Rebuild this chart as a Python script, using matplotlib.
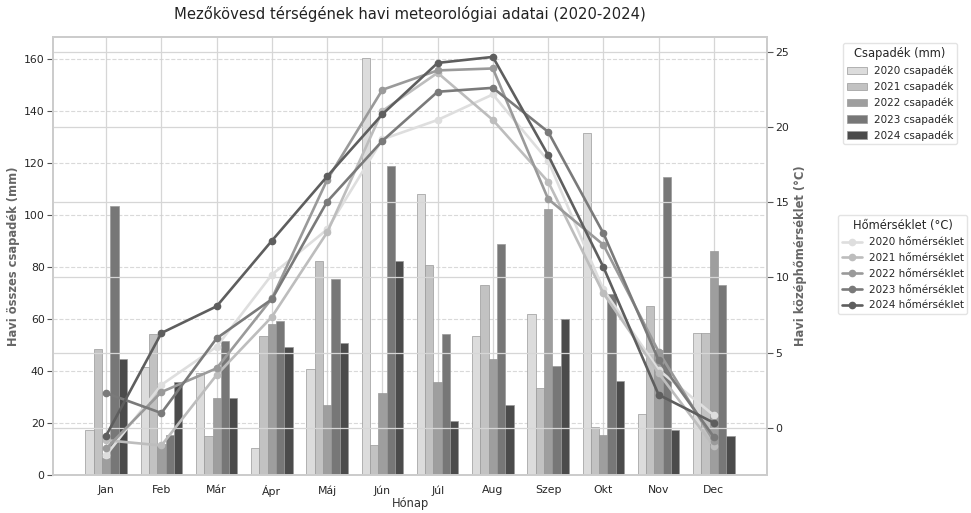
import matplotlib
matplotlib.use("Agg")
import matplotlib.pyplot as plt
import numpy as np
import seaborn as sns

months = ["Jan", "Feb", "Már", "Ápr", "Máj", "Jún", "Júl", "Aug", "Szep", "Okt", "Nov", "Dec"]
years = ["2020", "2021", "2022", "2023", "2024"]

precip_2020 = [17.3, 41.7, 39.1, 10.3, 40.8, 160.5, 108.3, 53.5, 61.9, 131.4, 23.3, 54.5]
precip_2021 = [48.3, 54.2, 15.1, 53.5, 82.4, 11.5, 80.9, 73.2, 33.5, 18.5, 65.0, 54.5]
precip_2022 = [6.5, 11.8, 29.5, 58.1, 26.9, 31.7, 35.6, 44.5, 102.4, 15.3, 48.0, 86.2]
precip_2023 = [103.5, 15.4, 51.5, 59.2, 75.3, 118.8, 54.4, 89.0, 41.9, 69.5, 114.5, 73.0]
precip_2024 = [44.5, 35.6, 29.5, 49.2, 50.6, 82.2, 20.8, 26.8, 59.9, 36.3, 17.2, 15.1]

temp_2020 = [-1.83, 2.85, 5.39, 10.19, 13.2, 19.2, 20.49, 22.19, 17.77, 9.2, 3.85, 0.82]
temp_2021 = [-0.84, -1.19, 3.51, 7.38, 13.0, 21.09, 23.63, 20.49, 16.38, 8.95, 3.63, -1.24]
temp_2022 = [-1.39, 2.37, 3.95, 8.6, 16.5, 22.5, 23.79, 23.92, 15.23, 12.18, 5.06, -0.9]
temp_2023 = [2.3, 0.97, 5.95, 8.55, 15.05, 19.1, 22.37, 22.63, 19.7, 12.95, 4.5, -0.62]
temp_2024 = [-0.53, 6.3, 8.08, 12.45, 16.73, 20.87, 24.29, 24.69, 18.15, 10.7, 2.19, 0.32]

precip = [precip_2020, precip_2021, precip_2022, precip_2023, precip_2024]
temps = [temp_2020, temp_2021, temp_2022, temp_2023, temp_2024]

sns.set_theme(style="whitegrid")
plt.rcParams['font.family'] = ['DejaVu Sans']

bar_colors = ["#dcdcdc", "#c2c2c2", "#9e9e9e", "#777777", "#4b4b4b"]
line_colors = ["#dedede", "#bdbdbd", "#9a9a9a", "#7a7a7a", "#5e5e5e"]

fig = plt.figure(figsize=(9.71, 5.13), dpi=100)
ax1 = fig.add_axes([53/971, 1-475/513, (767-53)/971, (475-37)/513])

x = np.arange(len(months))
width = 0.15
bar_handles = []
for i, (yr, vals) in enumerate(zip(years, precip)):
    h = ax1.bar(x + (i - 2) * width, vals, width, color=bar_colors[i],
                edgecolor="#999999", linewidth=0.5, label=f"{yr} csapadék")
    bar_handles.append(h)

ax1.set_xticks(x)
ax1.set_xticklabels(months, fontsize=7.8)
ax1.set_xlabel("Hónap", fontsize=8.3, color="#333333", labelpad=0)
ax1.set_ylabel("Havi összes csapadék (mm)", fontsize=8.3, fontweight="bold", color="#666666", labelpad=3)
ax1.tick_params(axis='y', labelsize=7.8, left=True, length=4, width=0.8, color="#555555", pad=2)
ax1.tick_params(axis='x', labelsize=7.8, pad=1.5)
ax1.grid(axis='y', linestyle='--', color="#d0d0d0", alpha=0.8, linewidth=0.8)
ax1.grid(axis='x', linestyle='-', color="#d6d6d6", linewidth=0.9)
for s in ax1.spines.values():
    s.set_color("#cccccc")

ax2 = ax1.twinx()
line_handles = []
for i, (yr, vals) in enumerate(zip(years, temps)):
    h, = ax2.plot(x, vals, color=line_colors[i], linewidth=1.9, marker='o', markersize=4.5,
                  label=f"{yr} hőmérséklet")
    line_handles.append(h)
ax2.set_ylabel("Havi középhőmérséklet (°C)", fontsize=8.3, fontweight="bold", color="#666666", labelpad=3)
ax2.tick_params(axis='y', labelsize=7.8, right=True, length=4, width=0.8, color="#555555", pad=2)
ax2.grid(axis='y', linestyle='-', color="#d6d6d6", linewidth=0.9)
for s in ax2.spines.values():
    s.set_color("#cccccc")

fig.suptitle("Mezőkövesd térségének havi meteorológiai adatai (2020-2024)", fontsize=10.6,
             x=410/971, y=1-14/513, va='center', color="#222222")

leg1 = fig.legend(handles=bar_handles, title="Csapadék (mm)", loc="upper left",
                  bbox_to_anchor=(843/971, 1-43/513), borderaxespad=0, fontsize=7.5,
                  title_fontsize=8.3, frameon=True, labelspacing=0.55, borderpad=0.35,
                  handlelength=2.0, handletextpad=0.6)
leg2 = fig.legend(handles=line_handles, title="Hőmérséklet (°C)", loc="upper left",
                  bbox_to_anchor=(838/971, 1-215/513), borderaxespad=0, fontsize=7.5,
                  title_fontsize=8.3, frameon=True, labelspacing=0.55, borderpad=0.35,
                  handlelength=2.0, handletextpad=0.6)
for lg in (leg1, leg2):
    lg.get_frame().set_edgecolor("#dddddd")

fig.savefig("out.png", dpi=100)
